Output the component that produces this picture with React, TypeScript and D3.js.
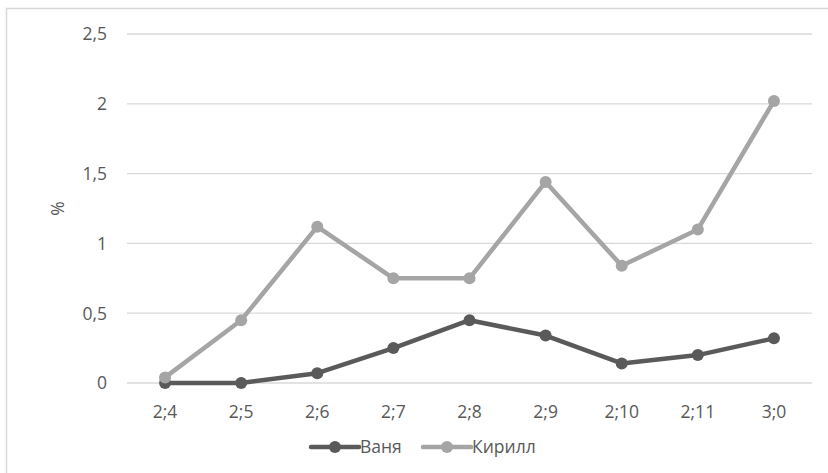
import React from "react";
import * as d3 from "d3";

const categories = ["2;4", "2;5", "2;6", "2;7", "2;8", "2;9", "2;10", "2;11", "3;0"];
const vanya = [0, 0, 0.07, 0.25, 0.45, 0.34, 0.14, 0.2, 0.32];
const kirill = [0.04, 0.45, 1.12, 0.75, 0.75, 1.44, 0.84, 1.1, 2.02];
const yTicks = [0, 0.5, 1, 1.5, 2, 2.5];
const seriesNames = ["Ваня", "Кирилл"];

const W = 828;
const H = 473;
const left = 127;
const right = 812;
const top = 34;
const bottom = 383;
const font = "'Open Sans', 'Noto Sans', sans-serif";
const textColor = "#595959";
const colors = ["#5a5a5a", "#a5a5a5"];
const fs = 17.5;

export default function App() {
  const x = d3.scaleBand<string>().domain(categories).range([left, right]);
  const y = d3.scaleLinear().domain([0, 2.5]).range([bottom, top]);
  const line = d3
    .line<number>()
    .x((_, i) => (x(categories[i]) as number) + x.bandwidth() / 2)
    .y((d) => y(d));
  const series = [vanya, kirill];
  const fmt = (v: number) => String(v).replace(".", ",");

  return (
    <svg
      width={W}
      height={H}
      style={{ position: "absolute", left: 0, top: 0, background: "#fff" }}
    >
      <rect x={6.5} y={8.5} width={900} height={600} fill="#fff" stroke="#d9d9d9" strokeWidth={1.5} />
      {yTicks.map((t) => (
        <g key={t}>
          <line x1={left} x2={right} y1={y(t)} y2={y(t)} stroke="#d9d9d9" strokeWidth={1.3} />
          <text
            x={107}
            y={y(t)}
            dy="0.36em"
            textAnchor="end"
            fontFamily={font}
            fontSize={fs}
            fill={textColor}
          >
            {fmt(t)}
          </text>
        </g>
      ))}
      {categories.map((c) => (
        <text
          key={c}
          x={(x(c) as number) + x.bandwidth() / 2}
          y={418}
          textAnchor="middle"
          fontFamily={font}
          fontSize={fs}
          fill={textColor}
        >
          {c}
        </text>
      ))}
      <text
        transform={`translate(64,${(top + bottom) / 2}) rotate(-90)`}
        textAnchor="middle"
        fontFamily={font}
        fontSize={fs}
        fill={textColor}
      >
        %
      </text>
      {series.map((s, si) => (
        <g key={si}>
          <path d={line(s) || ""} fill="none" stroke={colors[si]} strokeWidth={4.5} strokeLinejoin="round" />
          {s.map((v, i) => (
            <circle
              key={i}
              cx={(x(categories[i]) as number) + x.bandwidth() / 2}
              cy={y(v)}
              r={6}
              fill={colors[si]}
            />
          ))}
        </g>
      ))}
      {seriesNames.map((n, i) => {
        const lx = i === 0 ? 311 : 423;
        return (
          <g key={n}>
            <line x1={lx} x2={lx + 48} y1={447} y2={447} stroke={colors[i]} strokeWidth={4.5} strokeLinecap="round" />
            <circle cx={lx + 24} cy={447} r={6} fill={colors[i]} />
            <text x={lx + 49} y={447} dy="0.36em" fontFamily={font} fontSize={fs} fill={textColor}>
              {n}
            </text>
          </g>
        );
      })}
    </svg>
  );
}
